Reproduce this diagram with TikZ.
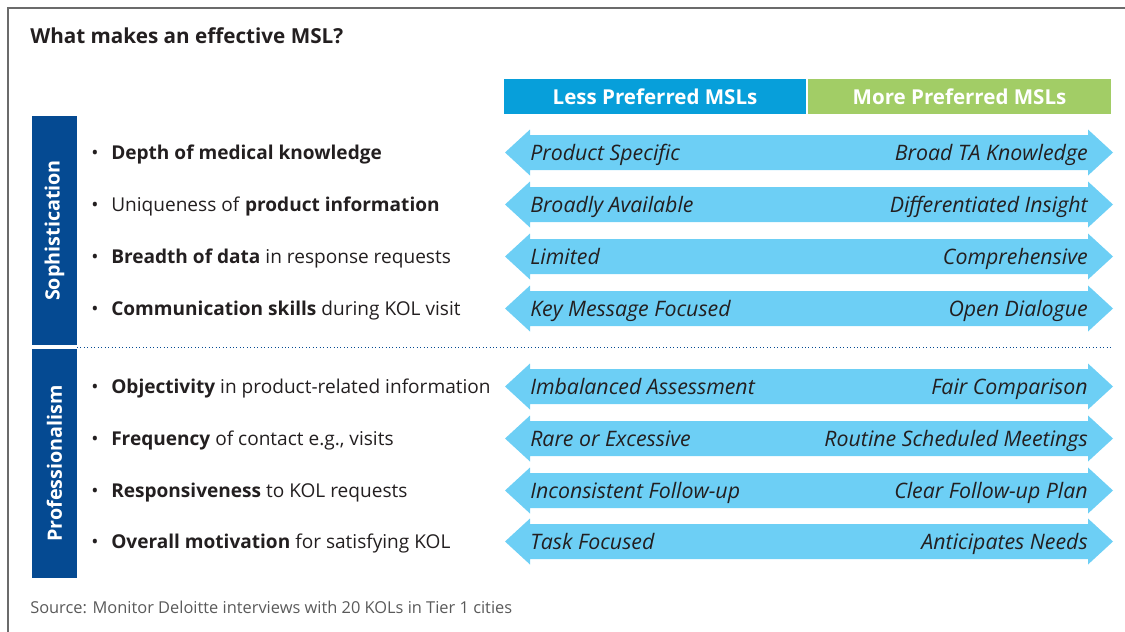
\documentclass[tikz,border=0pt]{standalone}
\usepackage{fontspec}
\setmainfont{Open Sans}
\usepackage{xcolor}
\usepackage{tikz}

\definecolor{barblue}{HTML}{054A92}
\definecolor{lessblue}{HTML}{079FDA}
\definecolor{moregreen}{HTML}{A2CD66}
\definecolor{arrowblue}{HTML}{6DCFF5}
\definecolor{framegray}{HTML}{6B6B6B}
\definecolor{inkblack}{HTML}{231F20}
\definecolor{sourcegray}{HTML}{5A5A5A}

\tikzset{
	itemtext/.style={text=inkblack, anchor=base west, inner sep=0pt, font=\fontsize{14.3}{17}\selectfont},
	lefttext/.style={text=inkblack, anchor=base west, inner sep=0pt, font=\fontsize{16}{19}\selectfont\itshape},
	righttext/.style={text=inkblack, anchor=base east, inner sep=0pt, font=\fontsize{16}{19}\selectfont\itshape},
	headtext/.style={text=white, inner sep=0pt, font=\fontsize{15.4}{18}\selectfont\bfseries},
	bartext/.style={text=white, inner sep=0pt, rotate=90, font=\fontsize{14.8}{17}\selectfont\bfseries}
}

\begin{document}
\begin{tikzpicture}[x=0.75pt,y=-0.75pt]
		\useasboundingbox (0,0) rectangle (1125,632);
		\draw[framegray, line width=1.5pt] (7.5,632) -- (7.5,7.5) -- (1125,7.5);
		\node[anchor=base west, inner sep=0pt, text=inkblack, font=\fontsize{15.5}{18}\selectfont\bfseries] (title) at (30,43.5) {What makes an effective MSL?};

		% column heads
		\fill[lessblue] (504,79) rectangle (806,114);
		\fill[moregreen] (808,79) rectangle (1111,114);
		\node[headtext] (less) at (655,96.5) {Less Preferred MSLs};
		\node[headtext] (more) at (959.5,96.5) {More Preferred MSLs};

		% side bars
		\fill[barblue] (32,116) rectangle (77,345);
		\fill[barblue] (32,349) rectangle (77,578);
		\node[bartext] (soph) at (54.5,230.5) {Sophistication};
		\node[bartext] (prof) at (54.5,463.5) {Professionalism};
		\draw[barblue, dotted, line width=0.6pt] (77,347) -- (1113,347);

		% arrows
		\foreach \c in {152.5,204.5,256.5,308.5,386.5,438.5,490.5,541.5}
			\fill[arrowblue] (505,\c) -- (530,\c-23) -- (530,\c-17.5) -- (1088,\c-17.5) -- (1088,\c-23)
				-- (1113,\c) -- (1088,\c+23) -- (1088,\c+17.5) -- (530,\c+17.5) -- (530,\c+23) -- cycle;

		% bullets
		\foreach \c in {152.5,204.5,256.5,308.5,386.5,438.5,490.5,541.5}
			\node[itemtext] at (91,\c+6.5) {•};

		\node[itemtext] (i1) at (111,159) {\textbf{Depth of medical knowledge}};
		\node[itemtext] (i2) at (111,211) {Uniqueness of \textbf{product information}};
		\node[itemtext] (i3) at (111,263) {\textbf{Breadth of data} in response requests};
		\node[itemtext] (i4) at (111,315) {\textbf{Communication skills} during KOL visit};
		\node[itemtext] (i5) at (111,393) {\textbf{Objectivity} in product-related information};
		\node[itemtext] (i6) at (111,445) {\textbf{Frequency} of contact e.g., visits};
		\node[itemtext] (i7) at (111,497) {\textbf{Responsiveness} to KOL requests};
		\node[itemtext] (i8) at (111,548) {\textbf{Overall motivation} for satisfying KOL};

		\node[lefttext] (l1) at (530,160) {Product Specific};
		\node[lefttext] (l2) at (530,212) {Broadly Available};
		\node[lefttext] (l3) at (530,264) {Limited};
		\node[lefttext] (l4) at (530,316) {Key Message Focused};
		\node[lefttext] (l5) at (530,394) {Imbalanced Assessment};
		\node[lefttext] (l6) at (530,446) {Rare or Excessive};
		\node[lefttext] (l7) at (530,498) {Inconsistent Follow-up};
		\node[lefttext] (l8) at (530,549) {Task Focused};

		\node[righttext] (r1) at (1088,160) {Broad TA Knowledge};
		\node[righttext] (r2) at (1088,212) {Differentiated Insight};
		\node[righttext] (r3) at (1088,264) {Comprehensive};
		\node[righttext] (r4) at (1088,316) {Open Dialogue};
		\node[righttext] (r5) at (1088,394) {Fair Comparison};
		\node[righttext] (r6) at (1088,446) {Routine Scheduled Meetings};
		\node[righttext] (r7) at (1088,498) {Clear Follow-up Plan};
		\node[righttext] (r8) at (1088,549) {Anticipates Needs};

		\node[anchor=base west, inner sep=0pt, text=sourcegray, font=\fontsize{12.3}{15}\selectfont] (source) at (30,613) {Source: Monitor Deloitte interviews with 20 KOLs in Tier 1 cities};
		\end{tikzpicture}
\end{document}
